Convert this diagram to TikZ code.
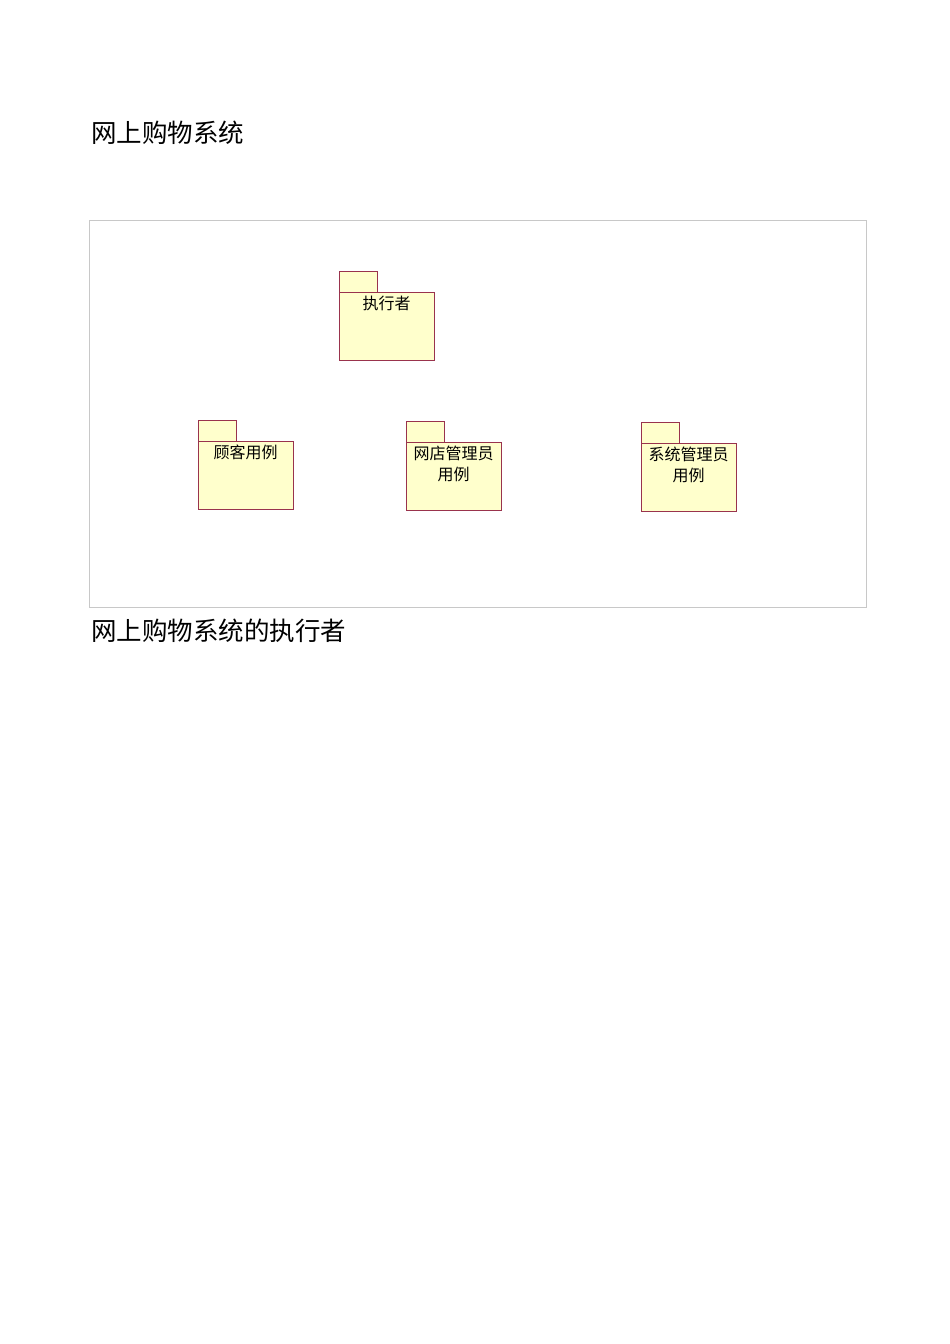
\documentclass[tikz,border=0pt]{standalone}
\usepackage{fontspec}
\newfontfamily\cjk{Noto Sans CJK SC}
\definecolor{pkgfill}{HTML}{FFFFCC}
\definecolor{pkgline}{HTML}{99334D}
\definecolor{framegray}{HTML}{C8C8C8}
\begin{document}
\begin{tikzpicture}[x=1pt,y=-1pt,
  pkgbody/.style={draw=pkgline,fill=pkgfill,line width=1pt},
  pkglabel/.style={font=\cjk\fontsize{16}{21}\selectfont,align=center,inner sep=0pt,anchor=north},
  heading/.style={font=\cjk\fontsize{25.5}{30}\selectfont,anchor=west,inner sep=0pt}]
\useasboundingbox (0,0) rectangle (950,1344);
\fill[white] (0,0) rectangle (950,1344);
\node[heading] (title) at (91,133) {网上购物系统};
\draw[framegray,line width=1pt] (89,220) rectangle (866,607);
\node[heading] (caption) at (91,631) {网上购物系统的执行者};
% packages
\newcommand{\pkg}[4]{%
  \draw[pkgbody] (#1,#2) rectangle ++(38,21);
  \draw[pkgbody] (#1,#2+21) rectangle ++(95,68);
  \node[pkglabel] (#3) at (#1+47.5,#2+25) {#4};}
\pkg{339}{271}{actor}{执行者}
\pkg{198}{420}{customer}{顾客用例}
\pkg{406}{421}{shopadmin}{网店管理员\\用例}
\pkg{641}{422}{sysadmin}{系统管理员\\用例}
\end{tikzpicture}
\end{document}
